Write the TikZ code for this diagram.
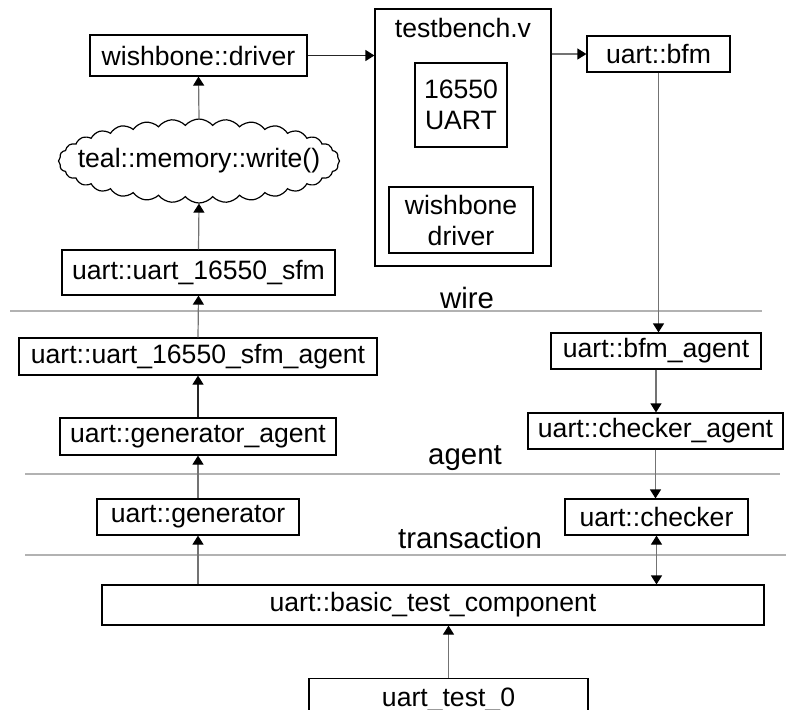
\documentclass[tikz,border=0pt]{standalone}
\usepackage{fontspec}
\setmainfont{Liberation Sans}
\usetikzlibrary{arrows.meta,shapes.symbols}

\begin{document}
\begin{tikzpicture}[x=0.5pt,y=-0.5pt,
	box/.style={draw,line width=0.6pt,inner sep=0pt,font=\fontsize{13.3}{15.5}\selectfont},
	tag/.style={inner sep=0pt,font=\fontsize{14.7}{17}\selectfont},
	conn/.style={line width=0.6pt,draw=black!55,-{Triangle[black,width=5.5pt,length=4.5pt]}},
	sep/.style={line width=0.6pt,draw=black!30}]
	\clip (0,0) rectangle (786,709);
	% upper part: memory path and testbench
	\node[box,minimum width=108.5pt,minimum height=20.5pt] (drv) at (198.5,55.5) {wishbone::driver};
	\node[box,minimum width=88pt,minimum height=128.5pt] (tb) at (463,137.5) {};
	\node[tag,font=\fontsize{13.3}{15.5}\selectfont] (tbname) at (463,28) {testbench.v};
	\node[box,minimum width=46pt,minimum height=42pt,align=center] (uartcore) at (461,105) {16550\\UART};
	\node[box,minimum width=72pt,minimum height=33pt,align=center] (wbdrv) at (461,220) {wishbone\\driver};
	\node[box,minimum width=71.5pt,minimum height=18pt] (bfm) at (658.5,54) {uart::bfm};
	\node[box,cloud,cloud puffs=32,cloud puff arc=100,cloud ignores aspect,minimum width=140.5pt,minimum height=42pt] (wr) at (199,161) {};
	\node[box,draw=none] (wrtext) at (wr.center) {teal::memory::write()};
	\node[box,minimum width=136.5pt,minimum height=22.5pt] (sfm) at (198.5,272.5) {uart::uart\_16550\_sfm};
	% agent layer
	\node[box,minimum width=179pt,minimum height=18.5pt] (sfmagent) at (198,356.5) {uart::uart\_16550\_sfm\_agent};
	\node[box,minimum width=105pt,minimum height=18pt] (bfmagent) at (656,351) {uart::bfm\_agent};
	\node[box,minimum width=138pt,minimum height=18.5pt] (genagent) at (198,436.5) {uart::generator\_agent};
	\node[box,minimum width=127.5pt,minimum height=18pt] (chkagent) at (655.5,431) {uart::checker\_agent};
	% transaction layer
	\node[box,minimum width=101pt,minimum height=18pt] (gen) at (198,517) {uart::generator};
	\node[box,minimum width=91.5pt,minimum height=18pt] (chk) at (656.5,517) {uart::checker};
	\node[box,minimum width=331pt,minimum height=20pt] (btc) at (433,605) {uart::basic\_test\_component};
	\node[box,minimum width=139.5pt,minimum height=21pt,anchor=north] (test0) at (448.5,678) {uart\_test\_0};
	% layer separators
	\draw[sep] (10,311) -- (762,311);
	\draw[sep] (25,474) -- (780,474);
	\draw[sep] (25,555) -- (786,555);
	\node[tag] (lwire) at (467,298) {wire};
	\node[tag] (lagent) at (465,458) {agent};
	\node[tag] (ltrans) at (470,538) {transaction};
	% connectors
	\draw[conn,draw=black!85] (drv.east) -- (tb.west |- drv.east);
	\draw[conn] (tb.east |- bfm.west) -- (bfm.west);
	\draw[conn] (wr.north) -- (drv.south);
	\draw[conn] (sfm.north) -- (wr.south);
	\draw[conn] (sfmagent.north) -- (sfm.south);
	\draw[conn,draw=black!85] (genagent.north) -- (sfmagent.south);
	\draw[conn] (gen.north) -- (genagent.south);
	\draw[conn] (gen.south |- btc.north) -- (gen.south);
	\draw[conn] (bfm.south) -- (bfm.south |- bfmagent.north);
	\draw[conn] (bfmagent.south) -- (bfmagent.south |- chkagent.north);
	\draw[conn] (chkagent.south) -- (chkagent.south |- chk.north);
	\draw[conn,{Triangle[black,width=5.5pt,length=4.5pt]}-{Triangle[black,width=5.5pt,length=4.5pt]}] (chk.south) -- (chk.south |- btc.north);
	\draw[conn] (test0.north) -- (test0.north |- btc.south);
\end{tikzpicture}
\end{document}
